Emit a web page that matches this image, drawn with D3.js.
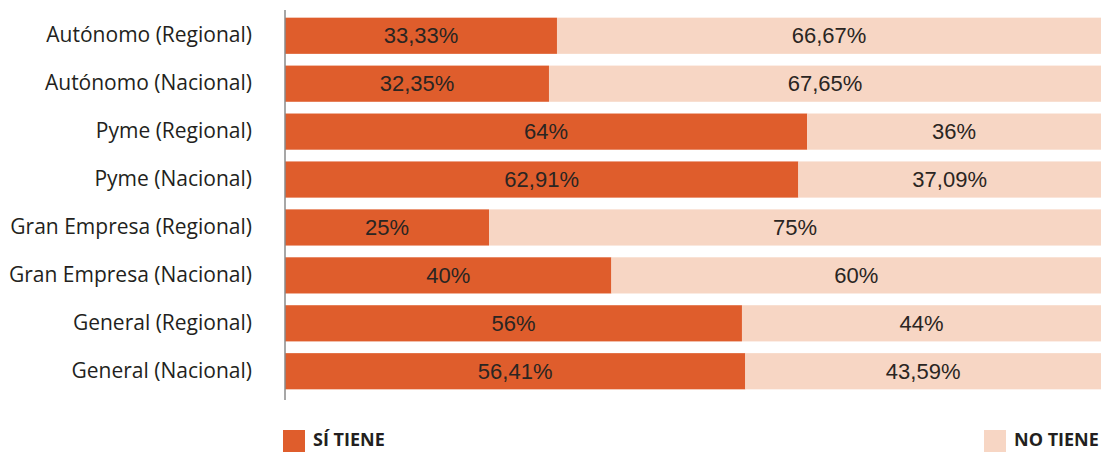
<!DOCTYPE html>
<html>
<head>
<meta charset="utf-8">
<script src="https://cdn.jsdelivr.net/npm/d3@7"></script>
<style>
  body { margin: 0; background: #fff; }
  svg text { font-family: "Open Sans", sans-serif; }
</style>
</head>
<body>
<div id="container"></div>
<script>
// Chart size
var svg_width = 1106
var svg_height = 452

// Data
var categories = [
    "Autónomo (Regional)", "Autónomo (Nacional)",
    "Pyme (Regional)", "Pyme (Nacional)",
    "Gran Empresa (Regional)", "Gran Empresa (Nacional)",
    "General (Regional)", "General (Nacional)"
]
var siTiene = [33.33, 32.35, 64, 62.91, 25, 40, 56, 56.41]
var noTiene = [66.67, 67.65, 36, 37.09, 75, 60, 44, 43.59]
var seriesNames = ["SÍ TIENE", "NO TIENE"]
var seriesColors = ["#df5d2c", "#f7d6c4"]

function fmt(v) {
    return String(v).replace(".", ",") + "%"
}

var svg = d3.select("#container")
    .append("svg")
    .attr("width", svg_width)
    .attr("height", svg_height)

var x = d3.scaleLinear()
    .domain([0, 100])
    .range([285, 1101])

var y = d3.scaleBand()
    .domain(categories)
    .range([10, 397])
    .paddingInner(0.245)
    .paddingOuter(0.16)

// rows of stacked segments
var rows = categories.map(function(c, i){
    return [
        {cat: c, s: 0, x0: 0, x1: siTiene[i], v: siTiene[i]},
        {cat: c, s: 1, x0: siTiene[i], x1: 100, v: noTiene[i]}
    ]
})
var segs = [].concat.apply([], rows)

svg.append("g")
    .selectAll("rect")
    .data(segs)
    .enter()
    .append("rect")
    .attr("x", d => x(d.x0))
    .attr("y", d => y(d.cat))
    .attr("width", d => x(d.x1) - x(d.x0))
    .attr("height", y.bandwidth())
    .attr("fill", d => seriesColors[d.s])

svg.append("g")
    .selectAll("text")
    .data(segs)
    .enter()
    .append("text")
    .attr("x", d => (x(d.x0) + x(d.x1)) / 2)
    .attr("y", d => y(d.cat) + y.bandwidth() / 2 + 1.5)
    .attr("text-anchor", "middle")
    .attr("dominant-baseline", "middle")
    .style("font-family", "'Liberation Sans', Arial, sans-serif")
    .style("font-size", "22px")
    .attr("fill", "#2a2522")
    .text(d => fmt(d.v))

// category axis
var yAxis = svg.append("g")
    .attr("transform", "translate(285,0)")
    .call(d3.axisLeft(y).tickSize(0).tickPadding(33))
yAxis.select(".domain")
    .attr("d", "M0,10V400")
    .attr("stroke", "#8a8a8a")
    .attr("stroke-width", 1.5)
yAxis.selectAll("text")
    .style("font-family", "'Open Sans', sans-serif")
    .style("font-size", "21px")
    .attr("fill", "#231f20")

// legend
var legendX = [283, 984]
var lg = svg.append("g")
    .selectAll("g")
    .data(seriesNames)
    .enter()
    .append("g")
    .attr("transform", (d, i) => "translate(" + legendX[i] + ",430)")
lg.append("rect")
    .attr("width", 22)
    .attr("height", 22)
    .attr("fill", (d, i) => seriesColors[i])
lg.append("text")
    .attr("x", 30)
    .attr("y", 16)
    .style("font-size", "18px")
    .style("font-weight", "bold")
    .attr("fill", "#231f20")
    .text(d => d)
</script>
</body>
</html>
